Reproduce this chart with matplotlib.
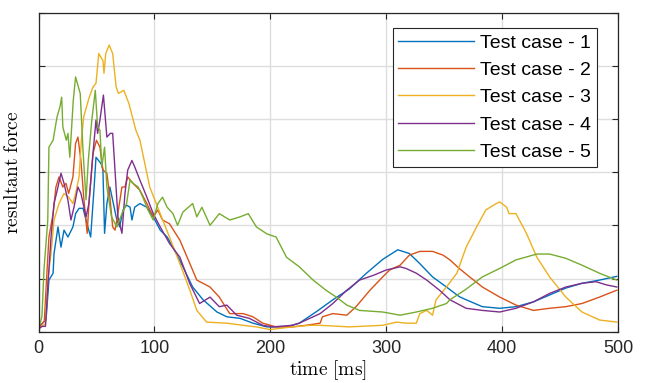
#Resultant force of five test cases over time
import matplotlib
matplotlib.use("Agg")
import matplotlib.pyplot as plt

#Values (time in ms, force in grid units)
t1 = [0, 3, 6.5, 9, 12.6, 13.4, 16.8, 19.4, 22, 25.4, 29.7, 32, 35, 38.4, 41, 45, 48, 49.6, 54, 55.6,
      57, 59, 61.6, 64, 67.6, 70, 73, 76, 79, 80.6, 83, 87.5, 93.5, 99, 105, 111, 116, 124.6, 133, 142,
      154, 162.5, 174, 185, 197, 214, 225, 240, 254, 268, 283, 297, 310, 320, 329, 340, 352, 363, 369,
      383, 398, 412, 427, 441, 455, 469, 484, 499]
f1 = [0.1, 0.15, 0.22, 0.97, 1.1, 1.47, 1.97, 1.59, 1.91, 1.78, 1.97, 2.22, 2.32, 2.32, 2.1, 1.78, 2.72, 3.28, 3.16, 3.04,
      1.85, 2.41, 2.72, 2.47, 2.1, 1.97, 2.29, 2.38, 2.34, 2.1, 2.34, 2.41, 2.34, 2.16, 1.91, 1.78, 1.59, 1.22, 0.84, 0.6,
      0.37, 0.28, 0.25, 0.16, 0.09, 0.09, 0.16, 0.38, 0.6, 0.8, 1.1, 1.36, 1.54, 1.47, 1.28, 1.03, 0.84, 0.66, 0.6,
      0.47, 0.44, 0.47, 0.56, 0.69, 0.82, 0.91, 0.97, 1.04]

t2 = [0, 3, 5, 7, 9, 12.6, 15, 17.7, 21, 23.7, 26, 29.7, 32, 34, 36.6, 39, 42, 43.5, 47, 50, 53, 55.6,
      59, 61.6, 64, 66, 67.6, 72, 74.6, 77, 81.5, 87.5, 93.5, 99, 103, 107, 113, 122, 130.6, 136.6, 148,
      156, 165, 176.5, 185, 193.5, 205, 219, 231, 243, 245, 254, 266, 274, 286, 297, 303, 312, 320, 329,
      340, 349, 355, 363, 372, 383, 398, 412, 427, 441, 455, 469, 484, 499]
f2 = [0.05, 0.15, 0.2, 1.0, 1.78, 2.22, 2.72, 2.91, 2.72, 2.79, 2.6, 2.91, 3.54, 3.66, 3.22, 2.53, 1.85, 2.41, 3.35, 3.6, 3.47, 3.04,
      2.98, 2.53, 1.97, 1.91, 2.1, 2.72, 2.72, 2.91, 2.79, 2.66, 2.41, 2.16, 2.29, 2.1, 2.03, 1.72, 1.28, 0.97, 0.84,
      0.65, 0.34, 0.34, 0.28, 0.16, 0.09, 0.09, 0.12, 0.16, 0.28, 0.34, 0.31, 0.47, 0.78, 1.03, 1.16, 1.25, 1.44, 1.51,
      1.51, 1.44, 1.35, 1.19, 1.03, 0.84, 0.65, 0.5, 0.4, 0.44, 0.47, 0.53, 0.65, 0.78]

t3 = [0, 3, 6, 8, 10.8, 13.4, 17.7, 22, 26, 29.7, 32, 35, 37, 39, 43.5, 47, 49.6, 52, 55.6, 56.5, 58, 61,
      64, 67, 69, 73.6, 78, 84, 87.5, 96, 105, 113, 122, 130.6, 136.6, 145, 162.5, 176.5, 188, 199.6, 219,
      234, 243, 268, 297, 309, 317, 326, 329, 335, 340, 343, 352, 361, 369, 378, 386, 395, 398, 404, 406,
      412, 421, 430, 441, 455, 469, 484, 499]
f3 = [0.05, 0.1, 0.15, 0.97, 1.47, 2.1, 2.41, 2.6, 2.53, 2.41, 2.6, 2.91, 3.6, 4.04, 4.39, 4.6, 4.67, 5.23, 5.1, 4.86, 5.23, 5.39,
      5.23, 4.6, 4.48, 4.54, 4.29, 3.79, 3.6, 2.72, 2.22, 1.78, 1.28, 0.78, 0.4, 0.18, 0.16, 0.12, 0.09, 0.04, 0.09,
      0.12, 0.12, 0.09, 0.12, 0.18, 0.16, 0.16, 0.34, 0.4, 0.31, 0.6, 0.84, 1.1, 1.59, 1.97, 2.29, 2.41, 2.44, 2.34, 2.22,
      2.22, 1.85, 1.4, 1.03, 0.65, 0.37, 0.22, 0.18]

t4 = [0, 3, 6, 8, 10.8, 13.4, 16.8, 19.4, 22, 25.4, 28, 30.6, 34, 36.6, 41, 43.5, 47, 49.6, 51, 53, 56, 59,
      62, 64, 66, 68.5, 72, 74.6, 77, 80.6, 83, 87.5, 93.5, 99, 105, 113, 122, 130.6, 139, 148, 156, 162.5,
      171, 182, 193.5, 202, 219, 225, 234, 243, 254, 266, 277, 289, 300, 312, 317, 326, 335, 346, 355, 369,
      383, 398, 412, 427, 441, 455, 469, 481, 490, 499]
f4 = [0.05, 0.1, 0.1, 0.84, 1.78, 2.41, 2.72, 2.98, 2.79, 2.47, 2.1, 2.34, 2.72, 2.6, 2.16, 2.41, 3.35, 3.98, 3.73, 3.98, 4.45, 3.66,
      3.73, 3.73, 3.04, 2.16, 1.85, 2.6, 3.04, 3.22, 3.1, 2.85, 2.53, 2.22, 1.97, 1.66, 1.4, 0.9, 0.53, 0.65, 0.47, 0.5,
      0.31, 0.25, 0.12, 0.09, 0.12, 0.16, 0.25, 0.34, 0.53, 0.78, 0.97, 1.06, 1.16, 1.22, 1.19, 1.1, 0.97, 0.78, 0.6, 0.44,
      0.4, 0.37, 0.44, 0.56, 0.72, 0.84, 0.91, 0.94, 0.88, 0.84]

t5 = [0, 2, 3, 4.7, 8, 9, 12.6, 16, 18.5, 20, 21, 24, 25.4, 27, 30, 32, 36, 38.4, 41, 43, 46, 49, 51, 53,
      54.6, 57, 59, 63, 67.6, 72, 76, 79, 81.5, 86, 90, 94.4, 99, 103, 107, 111, 116, 120, 124.6, 133,
      136.6, 141, 148, 156, 165, 174, 181, 188, 197, 205, 214, 225, 237, 248, 257, 266, 277, 297, 312,
      326, 340, 352, 355, 369, 383, 398, 412, 430, 441, 455, 469, 484, 499]
f5 = [0.1, 0.2, 0.3, 1.16, 2.1, 3.47, 3.6, 4.04, 4.23, 4.41, 3.85, 3.6, 3.73, 3.28, 4.35, 4.79, 4.48, 3.41, 2.48, 3.23, 3.98, 4.54, 3.85, 3.79,
      3.1, 3.47, 2.72, 2.16, 1.97, 2.22, 2.41, 2.85, 2.79, 2.72, 2.53, 2.29, 2.1, 2.41, 2.53, 2.34, 2.22, 2.0, 2.25, 2.41,
      2.16, 2.34, 2.0, 2.22, 2.1, 2.16, 2.22, 1.97, 1.84, 1.78, 1.4, 1.22, 0.97, 0.78, 0.65, 0.5, 0.4, 0.37, 0.31,
      0.37, 0.44, 0.53, 0.6, 0.8, 1.03, 1.19, 1.35, 1.46, 1.46, 1.38, 1.25, 1.1, 0.97]

labels = ["Test case - 1", "Test case - 2", "Test case - 3", "Test case - 4", "Test case - 5"]
#MATLAB default line colours
colours = ["#0072BD", "#D95319", "#EDB120", "#7E2F8E", "#77AC30"]

plt.rcParams['font.family'] = ['Liberation Sans', 'DejaVu Sans']
plt.rcParams['mathtext.fontset'] = 'cm'

fig = plt.figure(figsize=(6.45, 3.83), dpi=100)
ax = fig.add_axes([0.0597, 0.134, 0.8984, 0.833])

for t, f, lab, c in zip([t1, t2, t3, t4, t5], [f1, f2, f3, f4, f5], labels, colours):
    ax.plot(t, f, color=c, linewidth=1.0, label=lab)

#Axis formatting, MATLAB look
ax.set_xlim(0, 500)
ax.set_ylim(0, 6)
ax.set_xticks([0, 100, 200, 300, 400, 500])
ax.set_yticks(range(7))
ax.set_yticklabels([])
ax.grid(True, color='#dedede', linewidth=1.0)
ax.set_axisbelow(True)
ax.tick_params(direction='in', length=4.5, width=0.8, color='#262626',
               top=True, right=True, labelsize=13, labelcolor='#262626', pad=6)
for sp in ax.spines.values():
    sp.set_color('#262626')
    sp.set_linewidth(0.9)

ax.set_xlabel(r'$\mathrm{time\ [ms]}$', fontsize=14, labelpad=1)
ax.set_ylabel(r'$\mathrm{resultant\ force}$', fontsize=14, labelpad=6)

leg = ax.legend(loc='upper right', bbox_to_anchor=(0.9638, 0.9515), borderaxespad=0,
                fontsize=14, fancybox=False, framealpha=1, edgecolor='#262626',
                handlelength=3.9, handletextpad=0.3, labelspacing=0.5, borderpad=0.3)
leg.get_frame().set_linewidth(0.8)

fig.savefig("out.png", dpi=100)
